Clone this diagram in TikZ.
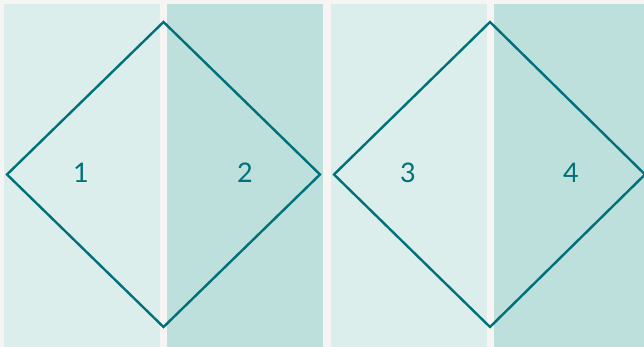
\documentclass[tikz,border=0pt]{standalone}
\usepackage{fontspec}
\setmainfont{Lato}
\usepackage{xcolor}
\usepackage{tikz}
\usetikzlibrary{positioning}

\definecolor{paper}{HTML}{F7F5F3}
\definecolor{paleteal}{HTML}{DCEEEB}
\definecolor{midteal}{HTML}{BDE0DC}
\definecolor{deepteal}{HTML}{00717A}

\begin{document}
\begin{tikzpicture}[x=1pt, y=-1pt,
    rhombus/.style={draw=deepteal, line width=2.4pt},
    numlabel/.style={text=deepteal, font=\fontsize{27}{27}\selectfont, inner sep=0pt}]
    % Canvas
    \fill[paper] (0,0) rectangle (644,347);
    \useasboundingbox (0,0) rectangle (644,347);

    % Column panels
    \fill[paleteal] (4,4)   rectangle (160,347);
    \fill[midteal]  (167,4) rectangle (323,347);
    \fill[paleteal] (331,4) rectangle (487,347);
    \fill[midteal]  (494,4) rectangle (644,347);

    % Diamonds
    \draw[rhombus] (163.5,22) -- (320,174.5) -- (163.5,327) -- (7,174.5) -- cycle;
    \begin{scope}
        \clip (0,0) rectangle (644,347);
        \draw[rhombus] (490,22) -- (645,174.5) -- (490,327) -- (334,174.5) -- cycle;
    \end{scope}

    % Numbers
    \node[numlabel] (one)   at (81,173)  {1};
    \node[numlabel] (two)   at (245,173) {2};
    \node[numlabel] (three) at (408,173) {3};
    \node[numlabel] (four)  at (571,173) {4};
\end{tikzpicture}
\end{document}
